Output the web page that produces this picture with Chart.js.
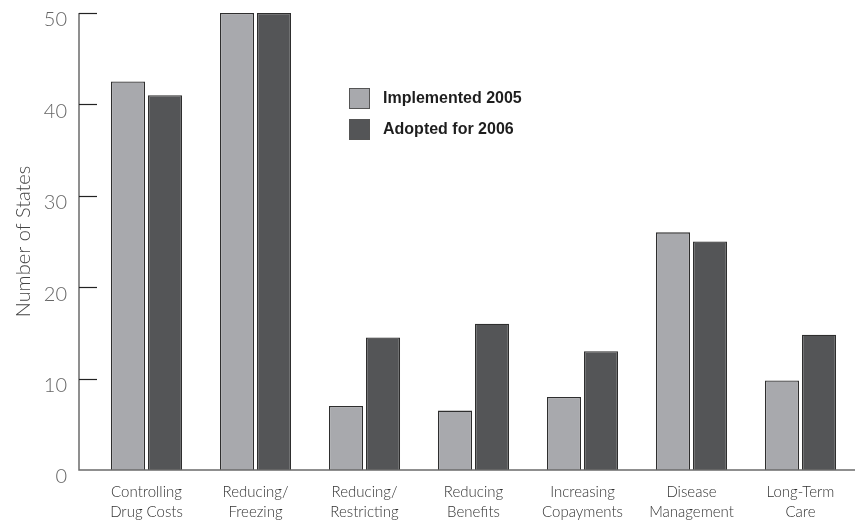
<!DOCTYPE html>
<html lang="en">
<head>
    <meta charset="UTF-8">
    <title>Number of States</title>
    <script src="https://cdn.jsdelivr.net/npm/chart.js"></script>
    <style>
        body { margin: 0; background: #fff; }
        #wrap { width: 855px; height: 522px; }
    </style>
</head>
<body>
    <div id="wrap"><canvas id="costChart" width="855" height="522"></canvas></div>
    <script>
        // category labels (two lines each)
        const categories = [
            ['Controlling', 'Drug Costs'],
            ['Reducing/', 'Freezing'],
            ['Reducing/', 'Restricting'],
            ['Reducing', 'Benefits'],
            ['Increasing', 'Copayments'],
            ['Disease', 'Management'],
            ['Long-Term', 'Care']
        ];
        const implemented2005 = [42.5, 50, 7, 6.5, 8, 26, 9.8];
        const adopted2006 = [41, 50, 14.5, 16, 13, 25, 14.8];
        const yTicks = [0, 10, 20, 30, 40, 50];

        const lightGrey = '#a8a9ad';
        const darkGrey = '#545557';
        const axisColor = '#6b6b6b';

        // axis line with inward ticks, plus the baseline
        const axisPlugin = {
            id: 'axisLines',
            afterDatasetsDraw(chart) {
                const c = chart.ctx;
                const y = chart.scales.y;
                const area = chart.chartArea;
                const ax = area.left - 13;
                c.save();
                c.strokeStyle = axisColor;
                c.lineWidth = 1.5;
                c.beginPath();
                c.moveTo(ax, y.getPixelForValue(50));
                c.lineTo(ax, y.getPixelForValue(0));
                c.lineTo(chart.width, y.getPixelForValue(0));
                c.stroke();
                c.strokeStyle = '#222';
                c.lineWidth = 1.2;
                yTicks.forEach(v => {
                    if (v === 0) return;
                    const py = Math.round(y.getPixelForValue(v)) + 0.5;
                    c.beginPath();
                    c.moveTo(ax, py);
                    c.lineTo(ax + 18, py);
                    c.stroke();
                });
                c.restore();
            }
        };

        // legend drawn inside the plot
        const legendPlugin = {
            id: 'innerLegend',
            afterDraw(chart) {
                const c = chart.ctx;
                c.save();
                chart.data.datasets.forEach((ds, i) => {
                    const top = 88 + i * 31;
                    c.fillStyle = ds.backgroundColor;
                    c.fillRect(349, top, 21, 21);
                    c.strokeStyle = '#555';
                    c.lineWidth = 1;
                    c.strokeRect(349.5, top + 0.5, 20, 20);
                    c.fillStyle = '#1e1e1e';
                    c.font = 'bold 16px "Liberation Sans"';
                    c.textBaseline = 'middle';
                    c.fillText(ds.label, 383, top + 11);
                });
                c.restore();
            }
        };

        const ctx = document.getElementById('costChart').getContext('2d');
        new Chart(ctx, {
            type: 'bar',
            data: {
                labels: categories,
                datasets: [
                    {
                        label: 'Implemented 2005',
                        data: implemented2005,
                        backgroundColor: lightGrey,
                        borderColor: '#2e2e2e',
                        borderWidth: 1.3,
                        categoryPercentage: 0.68,
                        barPercentage: 0.92
                    },
                    {
                        label: 'Adopted for 2006',
                        data: adopted2006,
                        backgroundColor: darkGrey,
                        borderColor: '#2e2e2e',
                        borderWidth: 1.3,
                        categoryPercentage: 0.68,
                        barPercentage: 0.92
                    }
                ]
            },
            options: {
                responsive: false,
                animation: false,
                layout: { padding: { top: 13, right: 0, bottom: 0, left: 0 } },
                plugins: {
                    legend: { display: false },
                    tooltip: { enabled: false }
                },
                scales: {
                    x: {
                        grid: { display: false, drawTicks: false },
                        border: { display: false },
                        ticks: {
                            color: '#333',
                            padding: 12,
                            maxRotation: 0,
                            font: { family: 'Lato', size: 15, weight: 300, lineHeight: 1.33 }
                        },
                        afterFit(scale) {
                            scale.height = 52;
                            scale.paddingLeft = 0;
                            scale.paddingRight = 0;
                        }
                    },
                    y: {
                        min: 0,
                        max: 50,
                        grid: { display: false, drawTicks: false },
                        border: { display: false },
                        afterBuildTicks(scale) {
                            scale.ticks = yTicks.map(v => ({ value: v }));
                        },
                        ticks: {
                            color: '#666',
                            padding: 25,
                            labelOffset: 7,
                            font: { family: 'Lato', size: 20, weight: 300 }
                        },
                        title: {
                            display: true,
                            text: 'Number of States',
                            color: '#444',
                            padding: { top: 12, bottom: 0 },
                            font: { family: 'Lato', size: 20, weight: 300 }
                        },
                        afterFit(scale) {
                            scale.width = 92;
                            scale.paddingTop = 0;
                            scale.paddingBottom = 0;
                        }
                    }
                }
            },
            plugins: [axisPlugin, legendPlugin]
        });
    </script>
</body>
</html>
